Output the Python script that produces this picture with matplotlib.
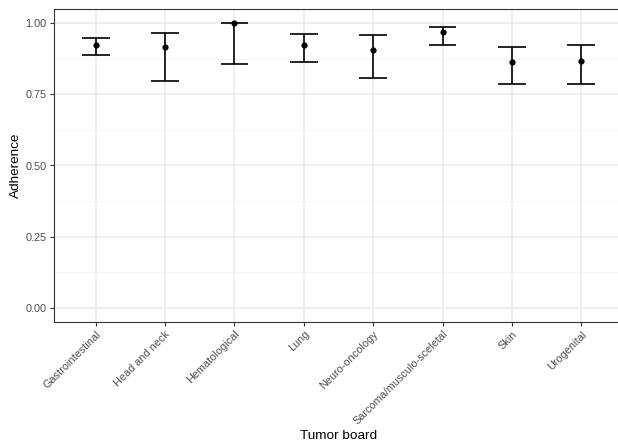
import matplotlib
matplotlib.use("Agg")
import matplotlib.pyplot as plt
import numpy as np

categories = ["Gastrointestinal", "Head and neck", "Hematological", "Lung",
              "Neuro-oncology", "Sarcoma/musculo-sceletal", "Skin", "Urogenital"]
adherence = [0.922, 0.916, 1.000, 0.925, 0.906, 0.970, 0.863, 0.867]
lower = [0.887, 0.798, 0.856, 0.863, 0.809, 0.924, 0.788, 0.785]
upper = [0.947, 0.967, 1.000, 0.961, 0.958, 0.988, 0.915, 0.922]
y_ticks = [0.0, 0.25, 0.5, 0.75, 1.0]
y_tick_labels = ["0.00", "0.25", "0.50", "0.75", "1.00"]

plt.rcParams['font.family'] = ['Liberation Sans', 'DejaVu Sans']

W, H = 618, 444
fig = plt.figure(figsize=(W / 100, H / 100), dpi=100)
left, right, top, bottom = 54, 623, 9, 322
ax = fig.add_axes([left / W, (H - bottom) / H, (right - left) / W, (bottom - top) / H])

x = np.arange(1, len(categories) + 1)
ax.set_xlim(0.4, len(categories) + 0.6)
ax.set_ylim(-0.05, 1.05)

# grid
for yv in [0.125, 0.375, 0.625, 0.875]:
    ax.axhline(yv, color='#F2F2F2', lw=0.55, zorder=0)
for yv in y_ticks:
    ax.axhline(yv, color='#EBEBEB', lw=1.1, zorder=0)
for xv in x:
    ax.axvline(xv, color='#EBEBEB', lw=1.1, zorder=0)

lo = np.array(lower); hi = np.array(upper); m = np.array(adherence)
ax.vlines(x, lo, hi, color='black', lw=1.2, zorder=2)
ax.hlines(lo, x - 0.2, x + 0.2, color='black', lw=1.2, zorder=2)
ax.hlines(hi, x - 0.2, x + 0.2, color='black', lw=1.2, zorder=2)
ax.scatter(x, m, s=20, color='black', zorder=3, linewidths=0)

ax.set_yticks(y_ticks)
ax.set_yticklabels(y_tick_labels)
ax.set_xticks(x)
ax.set_xticklabels(categories, rotation=45, ha='right', va='top', rotation_mode='anchor')

for s in ax.spines.values():
    s.set_color('#333333')
    s.set_linewidth(0.8)
ax.tick_params(axis='both', colors='#333333', length=3, width=0.8, labelsize=7.8,
               labelcolor='#4D4D4D', pad=2.5)
ax.tick_params(axis='x', pad=2.0)

ax.set_ylabel("Adherence", fontsize=9.7, color='black', labelpad=2)
ax.set_xlabel("Tumor board", fontsize=9.7, color='black', labelpad=2)

fig.savefig("out.png", dpi=100)
